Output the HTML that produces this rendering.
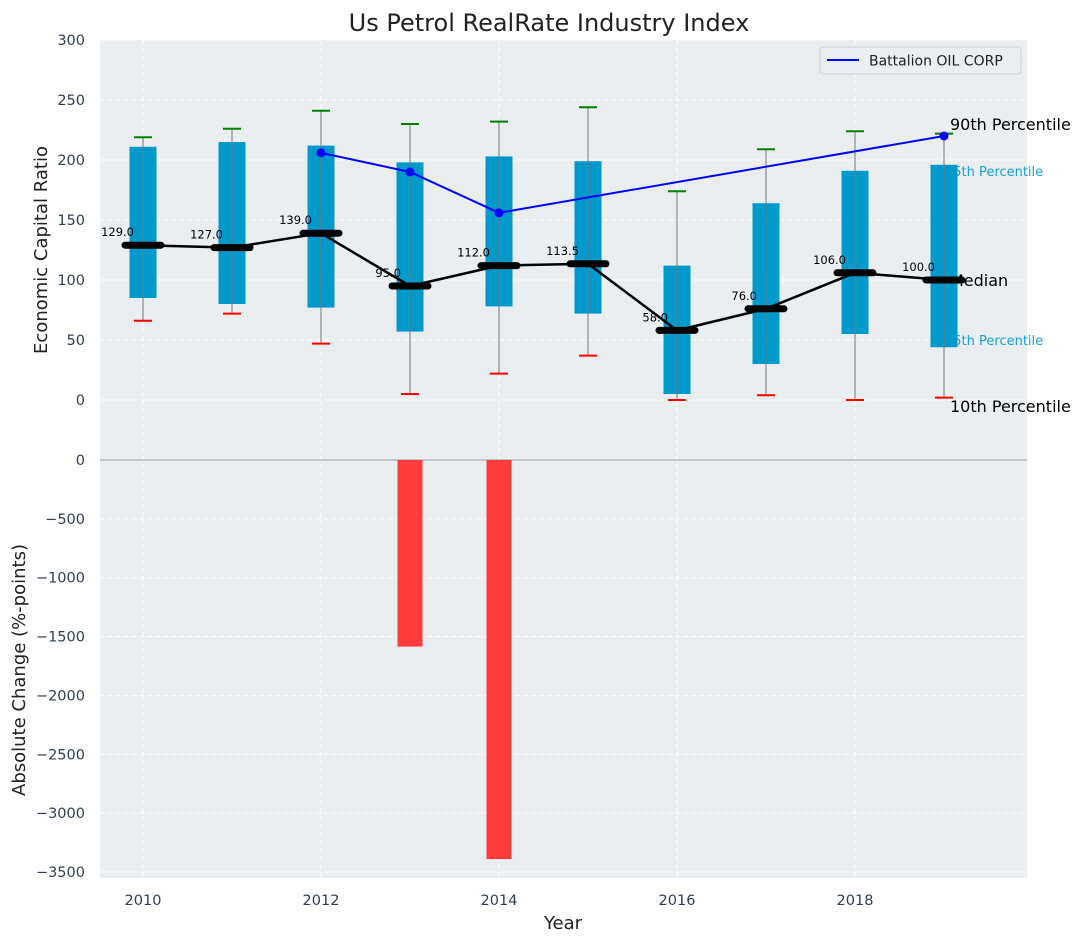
<!DOCTYPE html>
<html><head><meta charset="utf-8"><style>
body{margin:0;background:#fff;font-family:"Liberation Sans","DejaVu Sans",sans-serif}
svg text{font-family:"DejaVu Sans","Liberation Sans",sans-serif}
</style></head><body>
<svg id="chart" width="1085" height="942" xmlns="http://www.w3.org/2000/svg"></svg>
<script>
const years=[2010,2011,2012,2013,2014,2015,2016,2017,2018,2019];
const q1=[85,80,77,57,78,72,5,30,55,44];
const q3=[211,215,212,198,203,199,112,164,191,196];
const p10=[66,72,47,5,22,37,0,4,0,2];
const p90=[219,226,241,230,232,244,174,209,224,222];
const medians=[129,127,139,95,112,113.5,58,76,106,100];
const companyYears=[2012,2013,2014,2019];
const companyValues=[206,190,156,220];
const changeYears=[2013,2014];
const changeValues=[-1585,-3390];
const topTicks=[0,50,100,150,200,250,300];
const bottomTicks=[0,-500,-1000,-1500,-2000,-2500,-3000,-3500];
const xTicks=[2010,2012,2014,2016,2018];

const svg=document.getElementById('chart');
const NS='http://www.w3.org/2000/svg';
function el(tag,attrs,parent){const e=document.createElementNS(NS,tag);for(const k in attrs)e.setAttribute(k,attrs[k]);(parent||svg).appendChild(e);return e;}
const X=v=>143+(v-2010)*89;
const Yt=v=>400-v*1.2;
const Yb=v=>460-v*(412/3500);
const L=100,R=1027;

let e;
e=el('rect',{x:L,y:40,width:R-L,height:419,fill:'#eaeef0'});


e=el('rect',{x:L,y:459,width:R-L,height:419,fill:'#eaeef0'});



topTicks.forEach(t=>{
  e=el('line',{x1:L,x2:R,y1:Yt(t),y2:Yt(t),stroke:'#fff','stroke-dasharray':'5,3','stroke-width':1});
  
  
  e=el('text',{x:85,y:Yt(t)+5,'text-anchor':'end','font-size':14.5,fill:'#2e3f52'});
  e.textContent=t;
  
  
});
bottomTicks.forEach(t=>{
  if(t!==0){
  e=el('line',{x1:L,x2:R,y1:Yb(t),y2:Yb(t),stroke:'#fff','stroke-dasharray':'5,3','stroke-width':1});
  
  }
  e=el('text',{x:85,y:Yb(t)+5,'text-anchor':'end','font-size':14.5,fill:'#2e3f52'});
  e.textContent=t===0?'0':'\u2212'+(-t);
  
  
});
xTicks.forEach(t=>{
  e=el('line',{x1:X(t),x2:X(t),y1:40,y2:878,stroke:'#fff','stroke-dasharray':'5,3','stroke-width':1});
  
  
  e=el('text',{x:X(t),y:905,'text-anchor':'middle','font-size':14.5,fill:'#2e3f52'});
  e.textContent=t;
  
  
});
e=el('line',{x1:L,x2:R,y1:460,y2:460,stroke:'#b8b8b8','stroke-width':1.5});



changeYears.forEach((y,i)=>{
  e=el('rect',{x:X(y)-12.5,y:Yb(0),width:25,height:Yb(changeValues[i])-Yb(0),fill:'#ff3b3b'});
  
  
});

[['90th Percentile',950,130,16,'#000'],['75th Percentile',945,176,13,'#1a9fd0'],['Median',950,286,16,'#000'],['25th Percentile',945,345,13,'#1a9fd0'],['10th Percentile',950,412,16,'#000']].forEach(a=>{
  e=el('text',{x:a[1],y:a[2],'font-size':a[3],fill:a[4]});
  e.textContent=a[0];
  
  
});

years.forEach((y,i)=>{
  const cx=X(y);
  e=el('rect',{x:cx-13.5,y:Yt(q3[i]),width:27,height:Yt(q1[i])-Yt(q3[i]),fill:'#0099cc'});
  
  
  e=el('line',{x1:cx,x2:cx,y1:Yt(p90[i]),y2:Yt(p10[i]),stroke:'#777','stroke-width':1});
  
  
  e=el('line',{x1:cx-9,x2:cx+9,y1:Yt(p90[i]),y2:Yt(p90[i]),stroke:'#008000','stroke-width':2});
  
  
  e=el('line',{x1:cx-9,x2:cx+9,y1:Yt(p10[i]),y2:Yt(p10[i]),stroke:'#ff0000','stroke-width':2});
  
  
});

e=el('polyline',{points:companyYears.map((y,i)=>X(y)+','+Yt(companyValues[i])).join(' '),fill:'none',stroke:'#0000ff','stroke-width':2});


companyYears.forEach((y,i)=>{
  e=el('circle',{cx:X(y),cy:Yt(companyValues[i]),r:4.5,fill:'#0000ff'});
  
  
});

e=el('polyline',{points:years.map((y,i)=>X(y)+','+Yt(medians[i])).join(' '),fill:'none',stroke:'#000','stroke-width':2.5});


years.forEach((y,i)=>{
  e=el('line',{x1:X(y)-18,x2:X(y)+18,y1:Yt(medians[i]),y2:Yt(medians[i]),stroke:'#000','stroke-width':7,'stroke-linecap':'round'});
  
  
  e=el('text',{x:X(y)-9,y:Yt(medians[i])-9,'text-anchor':'end','font-size':11.5,fill:'#000'});
  e.textContent=medians[i].toFixed(1);
  
  
});

const lg=el('g',{});


el('rect',{x:820,y:47,width:201,height:27,rx:3,fill:'#eaeef2',stroke:'#d0d4d8'},lg);
el('line',{x1:827,x2:859,y1:60,y2:60,stroke:'#0000ff','stroke-width':2},lg);
e=el('text',{x:869,y:65.5,'font-size':14,fill:'#222'},lg);
e.textContent='Battalion OIL CORP';



e=el('text',{x:549,y:31,'text-anchor':'middle','font-size':24,fill:'#222'});
e.textContent='Us Petrol RealRate Industry Index';


e=el('text',{x:563,y:929,'text-anchor':'middle','font-size':18,fill:'#222'});
e.textContent='Year';


e=el('text',{x:0,y:0,'text-anchor':'middle','font-size':18,fill:'#222',transform:'translate(47,250) rotate(-90)'});
e.textContent='Economic Capital Ratio';


e=el('text',{x:0,y:0,'text-anchor':'middle','font-size':18,fill:'#222',transform:'translate(25,670) rotate(-90)'});
e.textContent='Absolute Change (%-points)';


</script>
</body></html>
